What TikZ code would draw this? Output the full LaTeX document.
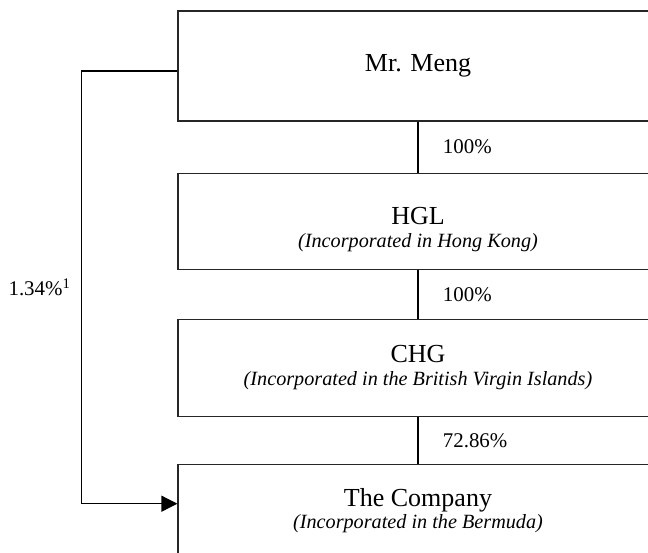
\documentclass[tikz,border=0pt]{standalone}
\usepackage{fontspec}
\setmainfont{Liberation Serif}
\usetikzlibrary{positioning,arrows.meta}
\newcommand{\placefont}{\fontsize{11.5pt}{13pt}\selectfont\itshape}

\begin{document}
\begin{tikzpicture}[
    node distance=1cm,
    entity/.style={draw=black!85, line width=0.7pt, rectangle, minimum width=9.6cm,
        inner sep=0pt},
    title/.style={inner sep=0pt, align=center, font=\fontsize{14.8pt}{13pt}\selectfont},
    share/.style={font=\fontsize{11.9pt}{14pt}\selectfont, inner sep=0pt},
    link/.style={line width=1pt}
]
    \useasboundingbox (0,0) rectangle (12.96,-11.06);
    \clip (0,0) rectangle (12.96,-11.06);

    \node[entity, minimum height=2.2cm] (meng) at (8.36,-1.32) {};
    \node[entity, minimum height=1.92cm, below=1.02cm of meng] (hgl) {};
    \node[entity, minimum height=1.94cm, below=0.98cm of hgl] (chg) {};
    \node[entity, minimum height=2.0cm, below=0.94cm of chg] (company) {};

    % Add names
    \node[title] (mengtext) at (meng) {Mr. Meng};
    \node[title, yshift=-0.16cm] (hgltext) at (hgl)
        {HGL\\{\placefont (Incorporated in Hong Kong)}};
    \node[title] (chgtext) at (chg)
        {CHG\\{\placefont (Incorporated in the British Virgin Islands)}};
    \node[title, yshift=0.08cm] (companytext) at (company)
        {The Company\\{\placefont (Incorporated in the Bermuda)}};

    % Add shareholdings
    \draw[link] (meng) -- (hgl) node[share, midway, right=0.48cm] (s1) {100\%};
    \draw[link] (hgl) -- (chg) node[share, midway, right=0.48cm] (s2) {100\%};
    \draw[link] (chg) -- (company) node[share, midway, right=0.48cm] (s3) {72.86\%};
    \draw[link, line width=0.7pt, -{Triangle[length=0.32cm, width=0.32cm]}]
        ([yshift=-0.1cm]meng.west) -- ++(-1.92,0) coordinate (bend)
        |- node[share, pos=0.25, left=0.2cm] (s4) {1.34\%\textsuperscript{1}}
        ([yshift=0.22cm]company.west);
\end{tikzpicture}
\end{document}
